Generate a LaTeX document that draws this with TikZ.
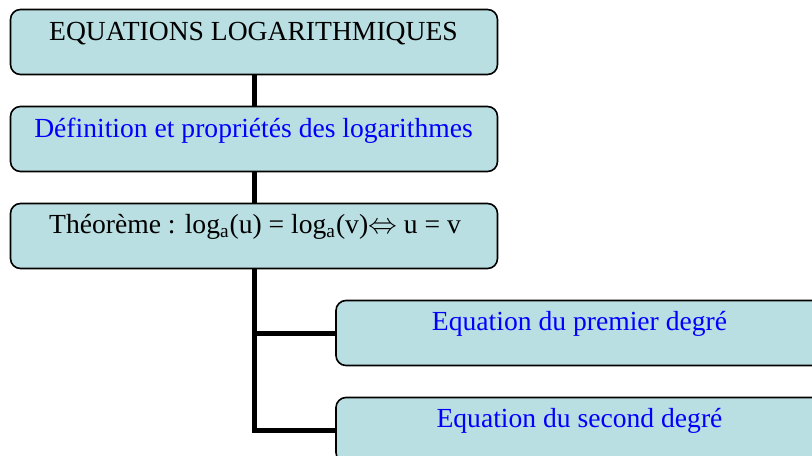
\documentclass[tikz,border=0pt]{standalone}
\usepackage{fontspec}
\setmainfont{Liberation Serif}
\definecolor{fondcadre}{RGB}{186,223,227}
\tikzset{
  cadre/.style={draw, line width=0.8pt, rounded corners=5pt, fill=fondcadre,
    minimum width=243.5pt, minimum height=32.5pt, inner sep=0pt},
  titre/.style={anchor=base, inner sep=0pt, font=\fontsize{13.8}{16}\selectfont},
  trait/.style={line width=2.5pt}
}
\begin{document}
\begin{tikzpicture}[x=0.5pt,y=-0.5pt]
      \useasboundingbox (0,0) rectangle (812,455);
      \clip (0,0) rectangle (812,455);

      \node[cadre] (A) at (254,42){};
      \node[cadre] (B) at (254,139){};
      \node[cadre] (C) at (254,236){};
      \node[cadre] (D) at (579.5,333){};
      \node[cadre] (E) at (579.5,430){};

      \node[titre] (tA) at (253.5,40){EQUATIONS LOGARITHMIQUES};
      \node[titre,blue] (tB) at (253.5,137){Définition et propriétés des logarithmes};
      \node[titre] (tC) at (255,233){Théorème : log\textsubscript{a}(u) = log\textsubscript{a}(v)$\Leftrightarrow$ u = v};
      \node[titre,blue] (tD) at (579.5,330){Equation du premier degré};
      \node[titre,blue] (tE) at (579.5,427){Equation du second degré};

      \coordinate (J) at (C.south |- E.west);
      \draw[trait] (A.south) -- (B.north);
      \draw[trait] (B.south) -- (C.north);
      \draw[trait] (C.south) -- (J) -- (E.west);
      \draw[trait] (C.south |- D.west) -- (D.west);
    \end{tikzpicture}
\end{document}
